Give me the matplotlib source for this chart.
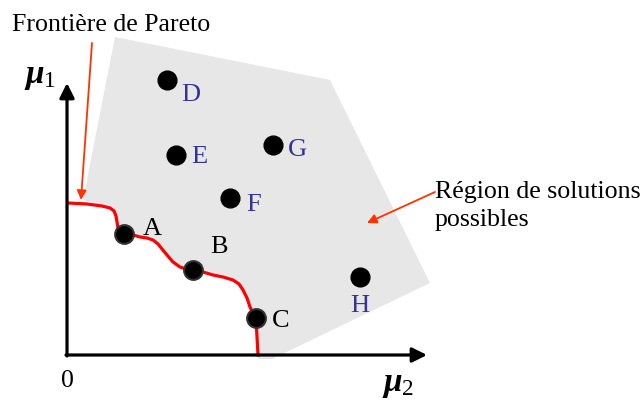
import matplotlib
matplotlib.use("Agg")
import matplotlib.pyplot as plt

plt.rcParams['font.family'] = ['Liberation Serif', 'DejaVu Serif']
plt.rcParams['mathtext.fontset'] = 'custom'
plt.rcParams['mathtext.it'] = 'Liberation Serif:italic:bold'
plt.rcParams['mathtext.rm'] = 'Liberation Serif'

# --- Données (unités arbitraires, origine = 0) ---
# solutions réalisables
pts_noms = ['D', 'E', 'G', 'F', 'H']
pts_x = [100, 109, 206, 163, 293]
pts_y = [275, 200, 210, 157, 78]

# solutions Pareto-optimales
pareto_noms = ['A', 'B', 'C']
pareto_x = [57, 126, 189]
pareto_y = [121, 85, 37]

# frontière de Pareto
front_x = [1, 20, 35, 43, 47, 49, 50, 51, 54, 58, 66, 73, 80, 86, 91, 95,
           100, 106, 113, 119, 126, 136, 146, 156, 166, 172, 176, 180, 183,
           186, 189, 190, 191]
front_y = [152, 151, 149, 147, 144, 139, 133, 127, 123, 122, 120, 118, 117,
           115, 111, 106, 100, 93, 88, 86, 85, 83, 80, 78, 75, 71, 65, 57,
           48, 42, 37, 18, 0]

# contour de la région réalisable (hors frontière)
region_x = [16, 48, 263, 363, 205, 191]
region_y = [155, 318, 275, 72, -4, -4]

fig = plt.figure(figsize=(6.42, 4.01), dpi=100)
ax = fig.add_axes([0, 0, 1, 1])
ax.set_xlim(-67, 575)
ax.set_ylim(-46, 355)
ax.axis('off')

# région grise : contour + frontière parcourue à l'envers
poly_x = region_x + front_x[::-1][:-2]
poly_y = region_y + front_y[::-1][:-2]
ax.fill(poly_x, poly_y, color='#e7e7e7', lw=0, zorder=1)

# axes avec flèches
ax.annotate('', xy=(0, 272), xytext=(0, -1),
            arrowprops=dict(arrowstyle='-|>', lw=2.3, color='black',
                            mutation_scale=22, shrinkA=0, shrinkB=0), zorder=4)
ax.annotate('', xy=(360, 0), xytext=(-1, 0),
            arrowprops=dict(arrowstyle='-|>', lw=2.3, color='black',
                            mutation_scale=22, shrinkA=0, shrinkB=0), zorder=4)

# frontière de Pareto
ax.plot(front_x, front_y, color='red', lw=2.3, zorder=3)

# points
ax.plot(pts_x, pts_y, 'o', color='black', markersize=13.5, zorder=5)
ax.plot(pareto_x, pareto_y, 'o', color='black', markeredgecolor='#333333',
        markeredgewidth=1.5, markersize=13.5, zorder=5)

# étiquettes des points
decal = {'D': (24, -15), 'E': (23, -2), 'G': (24, -5), 'F': (24, -7),
         'H': (0, -29), 'A': (28, 5), 'B': (26, 23), 'C': (25, -3)}
for n, x, y in zip(pts_noms, pts_x, pts_y):
    dx, dy = decal[n]
    ax.text(x + dx, y + dy, n, color='#333399', fontsize=19,
            ha='center', va='center', zorder=6)
for n, x, y in zip(pareto_noms, pareto_x, pareto_y):
    dx, dy = decal[n]
    ax.text(x + dx, y + dy, n, color='black', fontsize=19,
            ha='center', va='center', zorder=6)

# annotations
ax.text(-55, 330, 'Frontière de Pareto', fontsize=18.6, ha='left', va='center')
ax.annotate('', xy=(14, 155), xytext=(25, 312),
            arrowprops=dict(arrowstyle='-|>', lw=1.3, color='#ff3300',
                            mutation_scale=14, shrinkA=0, shrinkB=0))
ax.text(368, 149, 'Région de solutions\npossibles', fontsize=18.6,
        ha='left', va='center', linespacing=1.38)
ax.annotate('', xy=(300, 132), xytext=(368, 163),
            arrowprops=dict(arrowstyle='-|>', lw=1.3, color='#ff3300',
                            mutation_scale=14, shrinkA=0, shrinkB=0))

# noms des axes
ax.text(-27, 278, r'$\mu_1$', fontsize=24, ha='center', va='center')
ax.text(331, -30, r'$\mu_2$', fontsize=24, ha='center', va='center')
ax.text(0, -26, '0', fontsize=18.6, ha='center', va='center')

fig.savefig('out.png', dpi=100)
